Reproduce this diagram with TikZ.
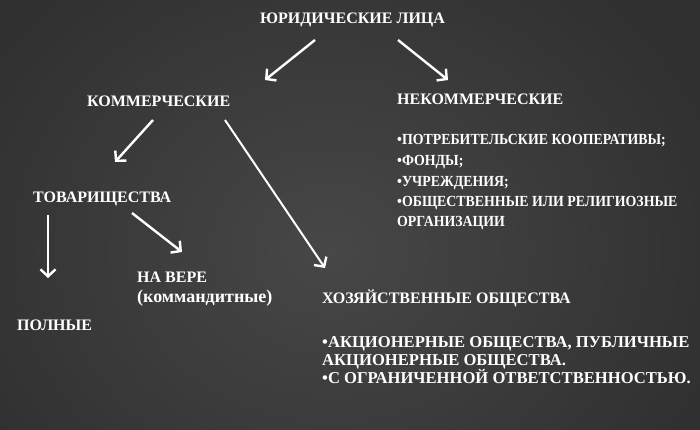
\documentclass[tikz,border=0pt]{standalone}
\usepackage{fontspec}
\setmainfont{Liberation Serif}
\newfontfamily\condserif[FakeStretch=0.9]{Liberation Serif}
\usetikzlibrary{arrows.meta}
\definecolor{bgout}{HTML}{303030}
\definecolor{bgin}{HTML}{474747}
\tikzset{
  lbl/.style={anchor=base west, inner sep=0pt, text=white, font=\bfseries\fontsize{16}{20}\selectfont},
  lst/.style={lbl, font=\condserif\bfseries\fontsize{15.4}{18}\selectfont},
  ao/.style={lbl, font=\bfseries\fontsize{16.6}{18}\selectfont},
  arr/.style={draw=white, line width=2.4pt, -{Straight Barb[length=7pt,width=15pt,line width=2.4pt]}},
}
\begin{document}
\begin{tikzpicture}[x=1pt,y=-1pt]
\useasboundingbox (0,0) rectangle (700,430);
\shade[inner color=bgin, outer color=bgout] (-80,-100) rectangle (740,600);
% nodes
\node[lbl] (root) at (260,24) {ЮРИДИЧЕСКИЕ ЛИЦА};
\node[lbl] (kom) at (87,107) {КОММЕРЧЕСКИЕ};
\node[lbl] (nekom) at (397,105) {НЕКОММЕРЧЕСКИЕ};
\node[lst] (nk1) at (397,145) {•ПОТРЕБИТЕЛЬСКИЕ КООПЕРАТИВЫ;};
\node[lst] (nk2) at (397,166) {•ФОНДЫ;};
\node[lst] (nk3) at (397,187) {•УЧРЕЖДЕНИЯ;};
\node[lst] (nk4) at (397,207) {•ОБЩЕСТВЕННЫЕ ИЛИ РЕЛИГИОЗНЫЕ};
\node[lst] (nk5) at (397,226) {ОРГАНИЗАЦИИ};
\node[lbl] (tov) at (33,202) {ТОВАРИЩЕСТВА};
\node[lbl] (vera) at (137,282) {НА ВЕРЕ};
\node[lbl, font=\bfseries\fontsize{18}{20}\selectfont] (vera2) at (137,302) {(коммандитные)};
\node[lbl] (poln) at (17,330) {ПОЛНЫЕ};
\node[lbl] (hoz) at (322,303) {ХОЗЯЙСТВЕННЫЕ ОБЩЕСТВА};
\node[ao] (ao1) at (322,347) {•АКЦИОНЕРНЫЕ ОБЩЕСТВА, ПУБЛИЧНЫЕ};
\node[ao] (ao2) at (322,365) {АКЦИОНЕРНЫЕ ОБЩЕСТВА.};
\node[ao] (ao3) at (322,383) {•С ОГРАНИЧЕННОЙ ОТВЕТСТВЕННОСТЬЮ.};
% connector endpoints
\coordinate (r1) at (315,40);  \coordinate (r1e) at (265,80);
\coordinate (r2) at (398,40);  \coordinate (r2e) at (448,80);
\coordinate (k1) at (153,120); \coordinate (k1e) at (115,162);
\coordinate (k2) at (225,120); \coordinate (k2e) at (325,268);
\coordinate (t1) at (48,215);  \coordinate (t1e) at (48,278);
\coordinate (t2) at (132,213); \coordinate (t2e) at (182,252);
% connectors
\draw[arr] (r1) -- (r1e);
\draw[arr] (r2) -- (r2e);
\draw[arr] (k1) -- (k1e);
\draw[arr, line width=2pt] (k2) -- (k2e);
\draw[arr] (t1) -- (t1e);
\draw[arr] (t2) -- (t2e);
\end{tikzpicture}
\end{document}
